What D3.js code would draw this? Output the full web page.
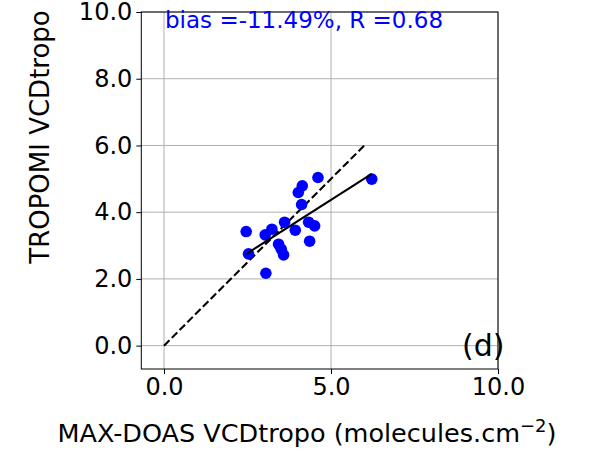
<!DOCTYPE html>
<html>
<head>
<meta charset="utf-8">
<script src="https://cdn.jsdelivr.net/npm/d3@7"></script>
<style>
  html, body { margin: 0; padding: 0; background: #fff; }
  svg { display: block; font-family: "DejaVu Sans", sans-serif; }
</style>
</head>
<body>
<svg id="chart" width="601" height="454"></svg>
<script>
// MAX-DOAS vs TROPOMI tropospheric VCD
const maxdoas = [4.61, 4.14, 4.02, 4.12, 6.22, 3.61, 3.23, 3.03, 2.46, 3.93, 4.33, 4.51, 4.36, 3.43, 3.51, 3.58, 2.53, 3.05];
const tropomi = [5.04, 4.79, 4.59, 4.23, 4.99, 3.70, 3.49, 3.32, 3.42, 3.46, 3.70, 3.59, 3.13, 3.04, 2.89, 2.72, 2.75, 2.17];
const xTicks = [0, 5, 10];
const yTicks = [0, 2, 4, 6, 8, 10];
const oneToOne = [0, 6];
const statsText = "bias =-11.49%, R =0.68";
const panelTag = "(d)";

const svg = d3.select("#chart");
const plot = { left: 141.3, right: 498, top: 12, bottom: 369 };

const x = d3.scaleLinear().domain([-0.68, 10]).range([plot.left, plot.right]);
const y = d3.scaleLinear().domain([-0.7, 10]).range([plot.bottom, plot.top]);

const gridColor = "#b0b0b0";

// grid
const grid = svg.append("g");
grid.selectAll("line.gx").data(xTicks).join("line")
  .attr("x1", d => x(d)).attr("x2", d => x(d))
  .attr("y1", plot.top).attr("y2", plot.bottom)
  .attr("stroke", gridColor).attr("stroke-width", 1);
grid.selectAll("line.gy").data(yTicks).join("line")
  .attr("x1", plot.left).attr("x2", plot.right)
  .attr("y1", d => y(d)).attr("y2", d => y(d))
  .attr("stroke", gridColor).attr("stroke-width", 1);

// 1:1 reference line
svg.append("line")
  .attr("x1", x(oneToOne[0])).attr("y1", y(oneToOne[0]))
  .attr("x2", x(oneToOne[1])).attr("y2", y(oneToOne[1]))
  .attr("stroke", "#000").attr("stroke-width", 2.1)
  .attr("stroke-dasharray", "7.7,3.3");

// points
const pts = maxdoas.map((v, i) => ({ x: v, y: tropomi[i] }));
svg.append("g").selectAll("circle").data(pts).join("circle")
  .attr("cx", d => x(d.x)).attr("cy", d => y(d.y))
  .attr("r", 5.8).attr("fill", "#0000ff");

// least-squares fit across the observed range
const mx = d3.mean(maxdoas), my = d3.mean(tropomi);
const sxy = d3.sum(pts, d => (d.x - mx) * (d.y - my));
const sxx = d3.sum(pts, d => (d.x - mx) ** 2);
const slope = sxy / sxx, intercept = my - slope * mx;
const [xmin, xmax] = d3.extent(maxdoas);
svg.append("line")
  .attr("x1", x(xmin)).attr("y1", y(intercept + slope * xmin))
  .attr("x2", x(xmax)).attr("y2", y(intercept + slope * xmax))
  .attr("stroke", "#000").attr("stroke-width", 2.1);

// axes
const fmt = d3.format(".1f");
const xAxis = svg.append("g")
  .attr("transform", `translate(0,${plot.bottom})`)
  .call(d3.axisBottom(x).tickValues(xTicks).tickFormat(fmt).tickSize(5).tickPadding(4));
const yAxis = svg.append("g")
  .attr("transform", `translate(${plot.left},0)`)
  .call(d3.axisLeft(y).tickValues(yTicks).tickFormat(fmt).tickSize(5).tickPadding(4));
[xAxis, yAxis].forEach(g => {
  g.select(".domain").remove();
  g.selectAll("line").attr("stroke", "#000").attr("stroke-width", 1);
  g.selectAll("text").attr("fill", "#000")
    .style("font-family", "DejaVu Sans").style("font-size", "24px");
});

// frame
svg.append("rect")
  .attr("x", plot.left).attr("y", plot.top)
  .attr("width", plot.right - plot.left).attr("height", plot.bottom - plot.top)
  .attr("fill", "none").attr("stroke", "#000").attr("stroke-width", 1);

// annotation text
svg.append("text")
  .attr("x", 165).attr("y", 28)
  .attr("fill", "#0000ff").style("font-size", "23px")
  .text(statsText);

svg.append("text")
  .attr("x", 462).attr("y", 356)
  .attr("fill", "#000").style("font-size", "30px")
  .text(panelTag);

// axis titles
const xl = svg.append("text")
  .attr("x", 307).attr("y", 442)
  .attr("text-anchor", "middle")
  .style("font-size", "25.5px").attr("fill", "#000");
xl.append("tspan").text("MAX-DOAS VCDtropo (molecules.cm");
xl.append("tspan").attr("dy", -10).style("font-size", "18px").text("\u22122");
xl.append("tspan").attr("dy", 10).text(")");

svg.append("text")
  .attr("transform", "translate(49,137) rotate(-90)")
  .attr("text-anchor", "middle")
  .style("font-size", "26px").attr("fill", "#000")
  .text("TROPOMI VCDtropo");
</script>
</body>
</html>
